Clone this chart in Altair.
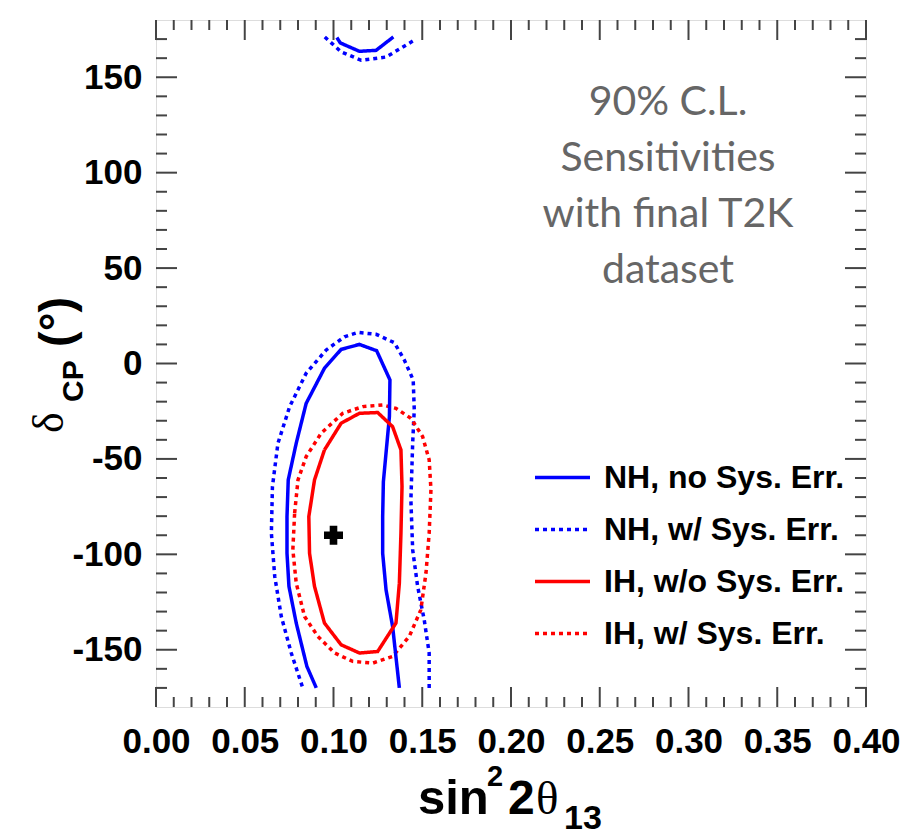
import altair as alt
import pandas as pd
import numpy as np

# ---------------- data ----------------
series_names = ["NH, no Sys. Err.", "NH, w/ Sys. Err.", "IH, w/o Sys. Err.", "IH, w/ Sys. Err."]
series_colors = ["#0000ff", "#0000ff", "#ff0000", "#ff0000"]
series_dash = [[1, 0], [4, 4], [1, 0], [4, 4]]

# NH, no Sys. Err. (main band, and the piece wrapping in from +180)
nh_nosys_x = [0.0903, 0.0850, 0.0790, 0.0749, 0.0738, 0.0738, 0.0745, 0.0790, 0.0846, 0.0949,
              0.1043, 0.1146, 0.1243, 0.1318, 0.1315, 0.1281, 0.1277, 0.1277, 0.1296, 0.1333, 0.1371]
nh_nosys_y = [-170.0, -158.7, -136.0, -116.8, -99.4, -80.2, -61.0, -41.8, -20.9, -2.5,
              7.4, 10.0, 6.7, -8.6, -27.8, -61.9, -80.2, -99.4, -118.6, -137.8, -170.0]
nh_nosys_top_x = [0.1019, 0.1038, 0.1146, 0.1240, 0.1337]
nh_nosys_top_y = [170.8, 168.0, 163.6, 164.1, 171.1]

# NH, w/ Sys. Err.
nh_sys_x = [0.0824, 0.0762, 0.0706, 0.0669, 0.0650, 0.0656, 0.0687, 0.0753, 0.0846, 0.0959,
            0.1062, 0.1137, 0.1240, 0.1343, 0.1399, 0.1449, 0.1455, 0.1446, 0.1436, 0.1446,
            0.1474, 0.1511, 0.1539, 0.1539]
nh_sys_y = [-169.2, -151.7, -132.6, -111.6, -88.9, -64.5, -41.8, -22.6, -5.1, 7.1,
            14.0, 16.3, 15.3, 10.9, 1.8, -8.6, -24.3, -41.8, -71.5, -97.6,
            -116.8, -134.3, -151.7, -170.1]
nh_sys_top_x = [0.0951, 0.1043, 0.1156, 0.1296, 0.1455]
nh_sys_top_y = [171.1, 163.3, 158.9, 160.6, 169.4]

# IH, w/o Sys. Err. (closed)
ih_nosys_x = [0.0949, 0.1043, 0.1146, 0.1249, 0.1333, 0.1380, 0.1386, 0.1380, 0.1371, 0.1352,
              0.1249, 0.1146, 0.1043, 0.0949, 0.0893, 0.0865, 0.0861, 0.0893]
ih_nosys_y = [-45.3, -31.3, -26.1, -25.7, -33.1, -45.3, -64.5, -88.9, -115.1, -136.0,
              -150.9, -151.7, -147.4, -136.0, -116.8, -99.4, -80.2, -61.0]

# IH, w/ Sys. Err. (closed)
ih_sys_x = [0.0781, 0.0800, 0.0846, 0.0931, 0.1052, 0.1165, 0.1277, 0.1352, 0.1436, 0.1502,
            0.1539, 0.1549, 0.1539, 0.1521, 0.1492, 0.1427, 0.1333, 0.1221, 0.1108, 0.1006,
            0.0912, 0.0837, 0.0790, 0.0771]
ih_sys_y = [-78.4, -61.0, -48.8, -36.5, -26.1, -22.6, -21.7, -23.5, -28.7, -38.3,
            -50.5, -66.2, -88.9, -109.8, -129.1, -143.0, -153.5, -157.0, -156.1, -151.7,
            -143.0, -132.6, -115.1, -97.6]

best_fit_x = [0.10]
best_fit_y = [-90.0]

x_tick_labels = [0.00, 0.05, 0.10, 0.15, 0.20, 0.25, 0.30, 0.35, 0.40]
y_tick_labels = [-150, -100, -50, 0, 50, 100, 150]
annotation_lines = ["90% C.L.", "Sensitivities", "with final T2K", "dataset"]

# ---------------- build tables ----------------
rows = []


def add(series, piece, xs, ys, closed=False):
    xs, ys = list(xs), list(ys)
    if closed:
        xs.append(xs[0])
        ys.append(ys[0])
    for i, (a, b) in enumerate(zip(xs, ys)):
        rows.append(dict(series=series, piece=piece, i=i, x=a, y=b))


add(series_names[1], "nh_sys", nh_sys_x, nh_sys_y)
add(series_names[1], "nh_sys_top", nh_sys_top_x, nh_sys_top_y)
add(series_names[3], "ih_sys", ih_sys_x, ih_sys_y, closed=True)
add(series_names[0], "nh_nosys", nh_nosys_x, nh_nosys_y)
add(series_names[0], "nh_nosys_top", nh_nosys_top_x, nh_nosys_top_y)
add(series_names[2], "ih_nosys", ih_nosys_x, ih_nosys_y, closed=True)
curves_df = pd.DataFrame(rows)

x_minor = [round(v, 2) for v in np.arange(0, 0.4001, 0.01) if round(v * 100) % 5 != 0]
y_minor = [int(v) for v in range(-170, 171, 10) if v % 50 != 0]
xmaj_df = pd.DataFrame({"v": x_tick_labels})
xmin_df = pd.DataFrame({"v": x_minor})
ymaj_df = pd.DataFrame({"v": y_tick_labels})
ymin_df = pd.DataFrame({"v": y_minor})

W, H = 710, 687
TICK = "#444444"
FONT = "Liberation Sans"
LW = 3.5

xscale = alt.Scale(domain=[0, 0.4], nice=False, zero=False)
yscale = alt.Scale(domain=[-180, 180], nice=False, zero=False)

xaxis = alt.Axis(values=x_tick_labels, format=".2f", labelFont=FONT, labelFontWeight="bold",
                 labelFontSize=35, labelColor="black", labelPadding=17, ticks=False,
                 domain=False, grid=False, title=None, labelFlush=False, labelOverlap=False)
yaxis = alt.Axis(values=y_tick_labels, labelExpr="toString(datum.value)", labelFont=FONT,
                 labelFontWeight="bold", labelFontSize=35, labelColor="black", labelPadding=14,
                 ticks=False, domain=False, grid=False, title=None, labelFlush=False,
                 labelOverlap=False)

legend = alt.Legend(title=None, orient="none", legendX=377, legendY=428, symbolType="stroke",
                    symbolSize=3025, symbolStrokeWidth=LW, labelFont=FONT, labelFontWeight="bold",
                    labelFontSize=32, labelColor="black", labelOffset=12, labelLimit=500,
                    rowPadding=6, padding=0)

curves = alt.Chart(curves_df).mark_line(strokeWidth=LW, clip=True).encode(
    x=alt.X("x:Q", scale=xscale, axis=xaxis),
    y=alt.Y("y:Q", scale=yscale, axis=yaxis),
    color=alt.Color("series:N", scale=alt.Scale(domain=series_names, range=series_colors),
                    legend=legend),
    strokeDash=alt.StrokeDash("series:N", scale=alt.Scale(domain=series_names, range=series_dash),
                              legend=legend),
    detail="piece:N",
    order="i:Q",
)

best = alt.Chart(pd.DataFrame({"x": best_fit_x, "y": best_fit_y})).mark_point(
    shape="cross", filled=True, color="black", size=361, opacity=1
).encode(x=alt.X("x:Q", scale=xscale, axis=xaxis), y=alt.Y("y:Q", scale=yscale, axis=yaxis))


def xticks(df, length):
    base = alt.Chart(df).mark_rule(color=TICK, strokeWidth=2)
    xe = alt.X("v:Q", scale=xscale, axis=xaxis)
    return [base.encode(x=xe, y=alt.value(H), y2=alt.value(H - length)),
            base.encode(x=xe, y=alt.value(0), y2=alt.value(length))]


def yticks(df, length):
    base = alt.Chart(df).mark_rule(color=TICK, strokeWidth=2)
    ye = alt.Y("v:Q", scale=yscale, axis=yaxis)
    return [base.encode(y=ye, x=alt.value(0), x2=alt.value(length)),
            base.encode(y=ye, x=alt.value(W), x2=alt.value(W - length))]


tick_layers = xticks(xmaj_df, 20) + xticks(xmin_df, 10) + yticks(ymaj_df, 21) + yticks(ymin_df, 11)

one = pd.DataFrame({"a": [0]})
anno = alt.Chart(one).mark_text(
    text=annotation_lines, font="Lato", fontSize=41, color="#666666", align="center",
    baseline="alphabetic", lineHeight=56
).encode(x=alt.value(512), y=alt.value(95))


def label(txt, x, y, size, font=FONT, weight="bold", angle=0):
    return alt.Chart(one).mark_text(
        text=txt, font=font, fontSize=size, fontWeight=weight, color="black",
        align="left", baseline="alphabetic", angle=angle
    ).encode(x=alt.value(x), y=alt.value(y))


# x title: sin^2 2θ_13
xtitle = [
    label("sin", 262, 794, 49),
    label("2", 331, 766, 29),
    label("2", 352, 794, 48),
    label("θ", 380, 794, 47, font="Liberation Serif", weight="normal"),
    label("13", 408, 809, 34),
]
# y title: δ_CP (°)
ytitle = [
    label("δ", -93, 413, 44, font="Liberation Serif", weight="normal", angle=270),
    label("CP", -73, 382, 30, angle=270),
    label("(°)", -84, 327, 47, angle=270),
]

chart = alt.layer(*tick_layers, curves, best, anno, *xtitle, *ytitle).properties(
    width=W, height=H,
    autosize=alt.AutoSizeParams(type="none"),
    padding={"left": 148, "top": 12, "right": 40, "bottom": 130},
).configure_view(stroke="black", strokeWidth=2).configure(background="white")

chart.save("out.html", embed_options={"renderer": "svg", "actions": False})
